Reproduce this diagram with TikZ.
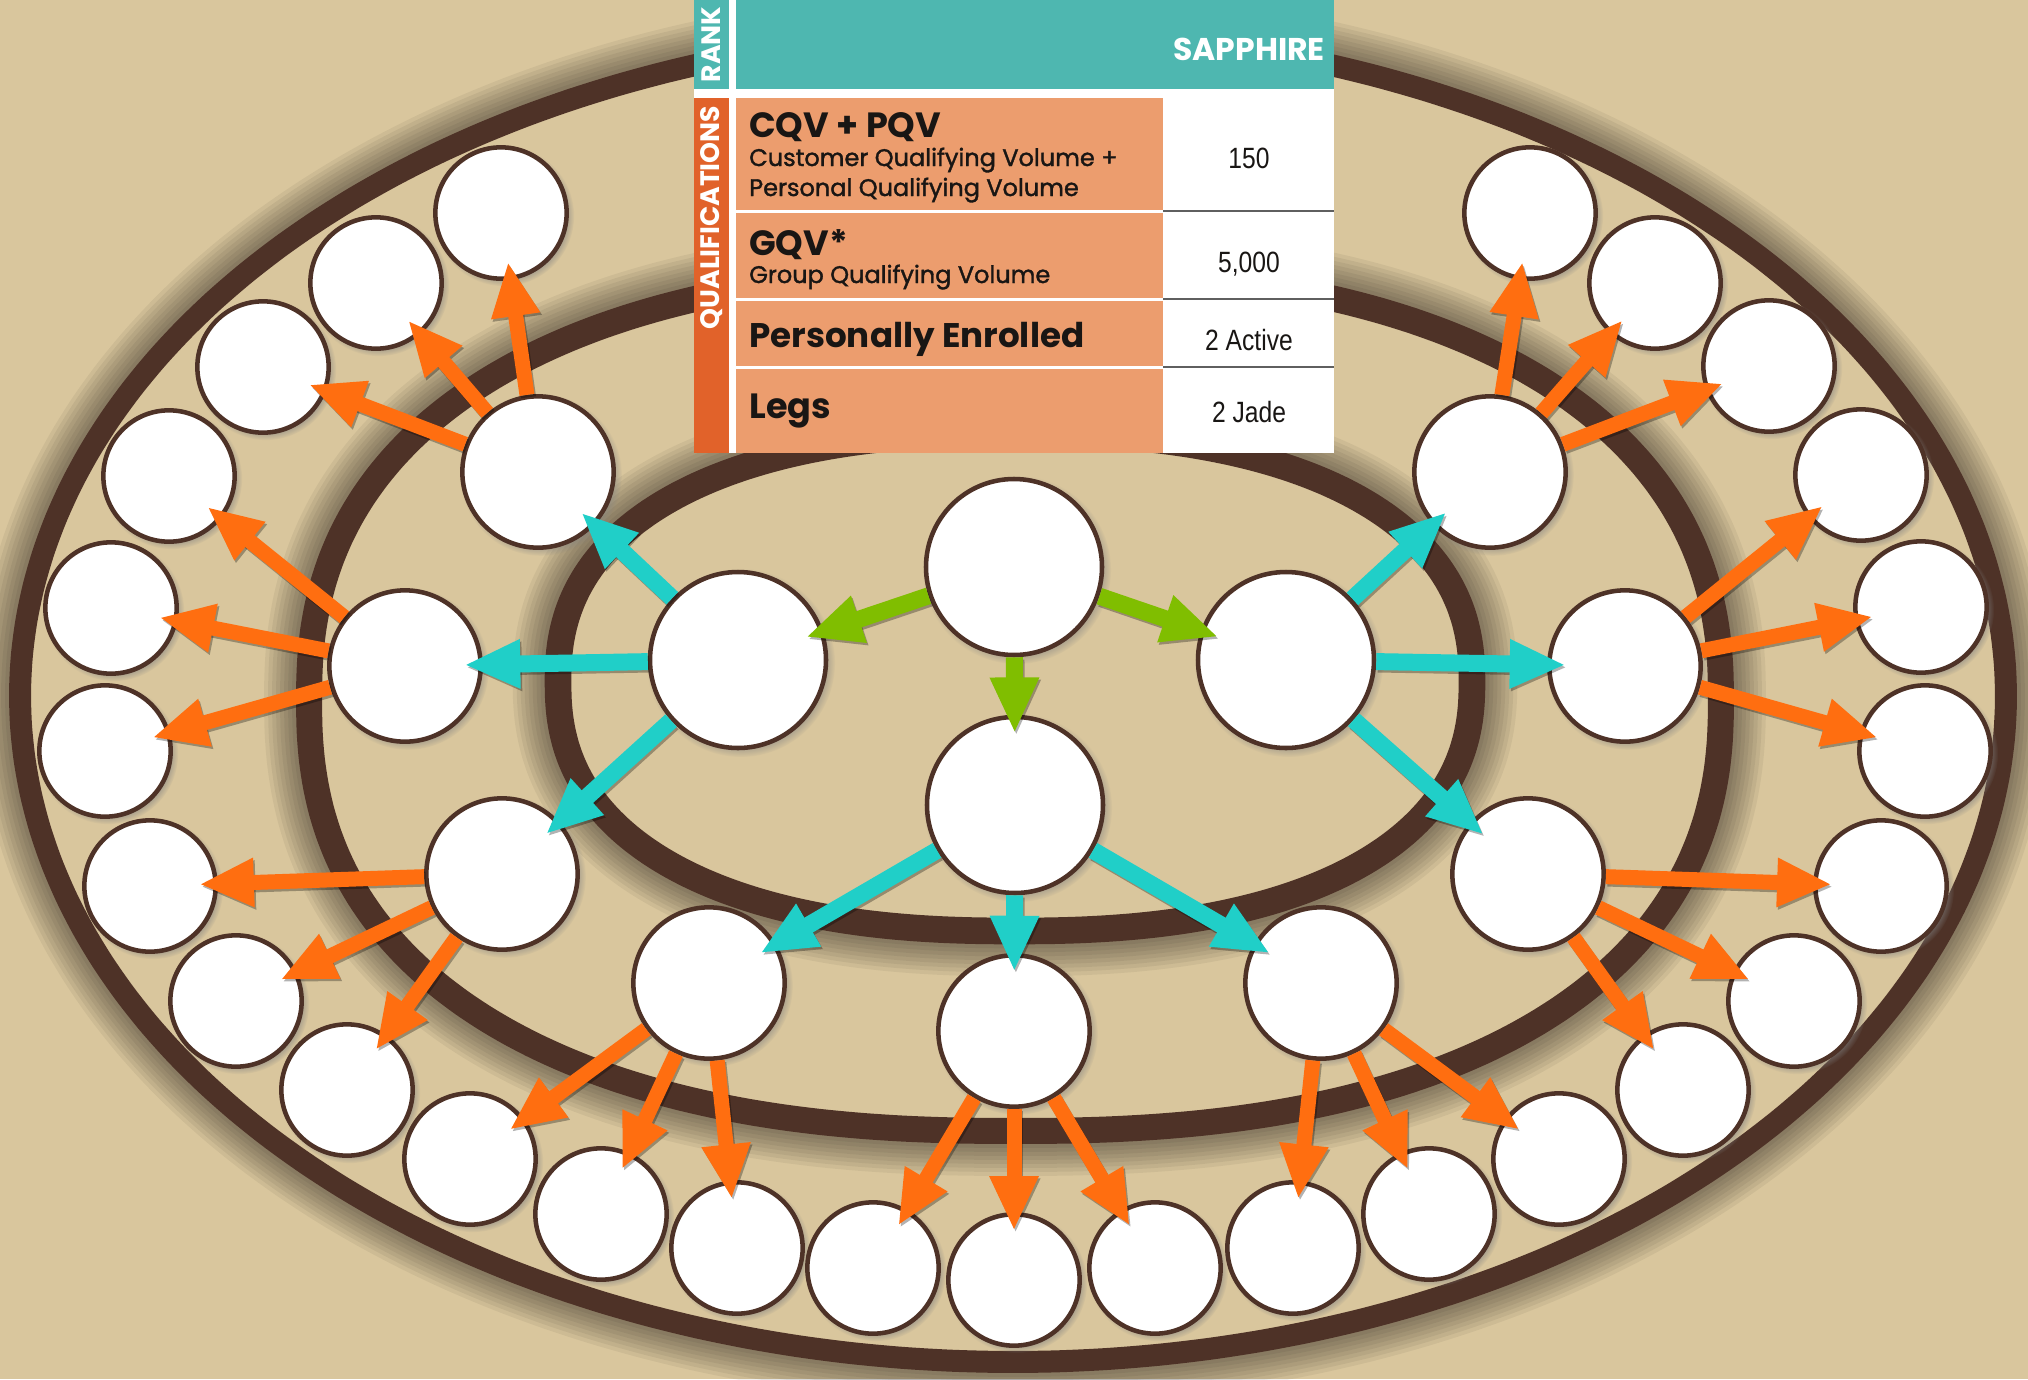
\documentclass[tikz,border=0pt]{standalone}
\usepackage{fontspec}
\setmainfont{Poppins}
\newfontfamily\pop{Poppins}
\newfontfamily\popm{Poppins}[FakeBold=1.5]
\newfontfamily\numf{Liberation Sans}[FakeStretch=0.84]
\usetikzlibrary{arrows.meta,shadows}
\definecolor{bgtan}{RGB}{217,198,157}
\definecolor{ringbrown}{RGB}{78,50,39}
\definecolor{arrorange}{RGB}{255,110,16}
\definecolor{arrcyan}{RGB}{32,207,200}
\definecolor{arrgreen}{RGB}{128,190,0}
\definecolor{hdrteal}{RGB}{78,183,176}
\definecolor{rowsalmon}{RGB}{236,157,110}
\definecolor{baror}{RGB}{225,98,42}
\definecolor{sepgray}{RGB}{95,95,95}
\definecolor{txtdark}{RGB}{25,22,20}
% #1 cx, #2 cy, #3 rx, #4 ry, #5 exponent
\newcommand\ringpath[5]{plot[smooth cycle,samples=120,domain=0.5:357.5]
  ({#1+#3*cos(\x)*abs(cos(\x))^(2/#5-1)},{#2+#4*sin(\x)*abs(sin(\x))^(2/#5-1)})}
\newcommand\ringdraw[6]{%
  \foreach \k in {1,...,8}{%
    \pgfmathsetmacro\lw{#6+\k*6}%
    \draw[black,opacity=.055,line width=\lw pt] \ringpath{#1}{#2}{#3}{#4}{#5};}
  \fill[bgtan] \ringpath{#1}{#2}{#3}{#4}{#5};
  \draw[ringbrown,line width=#6pt] \ringpath{#1}{#2}{#3}{#4}{#5};}
\newcommand\conn[3]{%
  \draw[#1,draw=black,opacity=.3,transform canvas={shift={(1.2pt,-1.8pt)}}] (#2) -- (#3);
  \draw[#1] (#2) -- (#3);}
\begin{document}
\begin{tikzpicture}[x=0.75pt,y=-0.75pt,
  circ/.style={circle, draw=ringbrown, fill=white, line width=3.4pt, inner sep=0pt,
    circular drop shadow={shadow xshift=2pt, shadow yshift=-2pt, shadow scale=1.07, opacity=.75}},
  bigc/.style={circ, minimum size=132pt},
  midc/.style={circ, minimum size=113.5pt},
  smc/.style={circ, minimum size=98.5pt},
  conarr/.style={shorten >=-14pt},
  org/.style={conarr, draw=arrorange, line width=11.25pt, -{Triangle[length=41pt,width=34pt]}},
  cyn/.style={conarr, draw=arrcyan, line width=12.75pt, -{Triangle[length=42pt,width=34pt]}},
  grn/.style={conarr, draw=arrgreen, line width=12.75pt, -{Triangle[length=42pt,width=34pt]}},
  lbl/.style={anchor=base west, inner sep=0pt, text=txtdark},
  hd/.style={lbl, font=\pop\bfseries\fontsize{26.3}{28}\selectfont},
  sub/.style={lbl, font=\popm\fontsize{18}{20}\selectfont},
  num/.style={anchor=base, inner sep=0pt, text=txtdark, font=\numf\fontsize{22}{24}\selectfont},
  vlab/.style={rotate=90, inner sep=0pt, text=white, font=\pop\bfseries\fontsize{20}{22}\selectfont}]
\useasboundingbox (0,0) rectangle (2028,1379);
\clip (0,0) rectangle (2028,1379);
\fill[bgtan] (0,0) rectangle (2028,1379);
% rings
\ringdraw{1013}{696}{993}{666}{2}{16.5}
\ringdraw{1015}{700}{706}{431}{2.35}{19.5}
\ringdraw{1015}{682}{457}{249}{2.35}{20}
% circles
\node[bigc] (root) at (1014,567) {};
\node[bigc] (A) at (738,660) {};
\node[bigc] (B) at (1015,805) {};
\node[bigc] (C) at (1286,660) {};
\node[midc] (A1) at (538,472) {};
\node[midc] (A2) at (405,666) {};
\node[midc] (A3) at (502,874) {};
\node[midc] (B1) at (709,983) {};
\node[midc] (B2) at (1014,1031) {};
\node[midc] (B3) at (1321,983) {};
\node[midc] (C1) at (1490,472) {};
\node[midc] (C2) at (1625,666) {};
\node[midc] (C3) at (1528,874) {};
\node[smc] (a11) at (501,213) {};
\node[smc] (a12) at (376,283) {};
\node[smc] (a13) at (263,367) {};
\node[smc] (a21) at (169,476) {};
\node[smc] (a22) at (111,608) {};
\node[smc] (a23) at (105,751) {};
\node[smc] (a31) at (150,886) {};
\node[smc] (a32) at (236,1001) {};
\node[smc] (a33) at (347,1090) {};
\node[smc] (b11) at (470,1159) {};
\node[smc] (b12) at (601,1214) {};
\node[smc] (b13) at (737,1248) {};
\node[smc] (b21) at (873,1268) {};
\node[smc] (b22) at (1014,1280) {};
\node[smc] (b23) at (1155,1268) {};
\node[smc] (b31) at (1293,1248) {};
\node[smc] (b32) at (1429,1214) {};
\node[smc] (b33) at (1559,1159) {};
\node[smc] (c31) at (1683,1090) {};
\node[smc] (c32) at (1794,1001) {};
\node[smc] (c33) at (1881,886) {};
\node[smc] (c21) at (1925,751) {};
\node[smc] (c22) at (1921,607) {};
\node[smc] (c23) at (1861,475) {};
\node[smc] (c11) at (1530,213) {};
\node[smc] (c12) at (1655,283) {};
\node[smc] (c13) at (1769,366) {};
% arrows
\conn{grn}{root}{A}
\conn{grn}{root}{B}
\conn{grn}{root}{C}
\conn{cyn}{A}{A1}
\conn{cyn}{A}{A2}
\conn{cyn}{A}{A3}
\conn{cyn}{B}{B1}
\conn{cyn}{B}{B2}
\conn{cyn}{B}{B3}
\conn{cyn}{C}{C1}
\conn{cyn}{C}{C2}
\conn{cyn}{C}{C3}
\conn{org}{A1}{a11}
\conn{org}{A1}{a12}
\conn{org}{A1}{a13}
\conn{org}{A2}{a21}
\conn{org}{A2}{a22}
\conn{org}{A2}{a23}
\conn{org}{A3}{a31}
\conn{org}{A3}{a32}
\conn{org}{A3}{a33}
\conn{org}{B1}{b11}
\conn{org}{B1}{b12}
\conn{org}{B1}{b13}
\conn{org}{B2}{b21}
\conn{org}{B2}{b22}
\conn{org}{B2}{b23}
\conn{org}{B3}{b31}
\conn{org}{B3}{b32}
\conn{org}{B3}{b33}
\conn{org}{C3}{c31}
\conn{org}{C3}{c32}
\conn{org}{C3}{c33}
\conn{org}{C2}{c21}
\conn{org}{C2}{c22}
\conn{org}{C2}{c23}
\conn{org}{C1}{c11}
\conn{org}{C1}{c12}
\conn{org}{C1}{c13}
% table
\fill[white] (694,0) rectangle (1334,453);
\fill[hdrteal] (694,0) rectangle (729,89);
\fill[hdrteal] (736,0) rectangle (1334,89);
\fill[baror] (694,98) rectangle (729,453);
\fill[rowsalmon] (736,98) rectangle (1163,210);
\fill[rowsalmon] (736,212.5) rectangle (1163,298);
\fill[rowsalmon] (736,300.5) rectangle (1163,366);
\fill[rowsalmon] (736,368.5) rectangle (1163,453);
\draw[sepgray,line width=1.6pt] (1163,211) -- (1334,211);
\draw[sepgray,line width=1.6pt] (1163,299) -- (1334,299);
\draw[sepgray,line width=1.6pt] (1163,367) -- (1334,367);
\node[vlab] (rank) at (711.5,44.5) {RANK};
\node[vlab] (quals) at (711.5,217.5) {QUALIFICATIONS};
\node[anchor=base, inner sep=0pt, text=white, font=\pop\bfseries\fontsize{23.6}{25}\selectfont] (sapph) at (1249,60) {SAPPHIRE};
\node[hd] (cqv) at (749,137) {CQV + PQV};
\node[sub] (cqvd1) at (749,166) {Customer Qualifying Volume +};
\node[sub] (cqvd2) at (749,196) {Personal Qualifying Volume};
\node[hd] (gqv) at (749,255) {GQV*};
\node[sub] (gqvd) at (749,283) {Group Qualifying Volume};
\node[hd, font=\pop\bfseries\fontsize{25.6}{28}\selectfont] (pe) at (749,347) {Personally Enrolled};
\node[hd] (legs) at (749,418) {Legs};
\node[num] (v1) at (1249,168) {150};
\node[num] (v2) at (1249,272) {5,000};
\node[num] (v3) at (1249,350) {2 Active};
\node[num] (v4) at (1249,422) {2 Jade};
\end{tikzpicture}
\end{document}
